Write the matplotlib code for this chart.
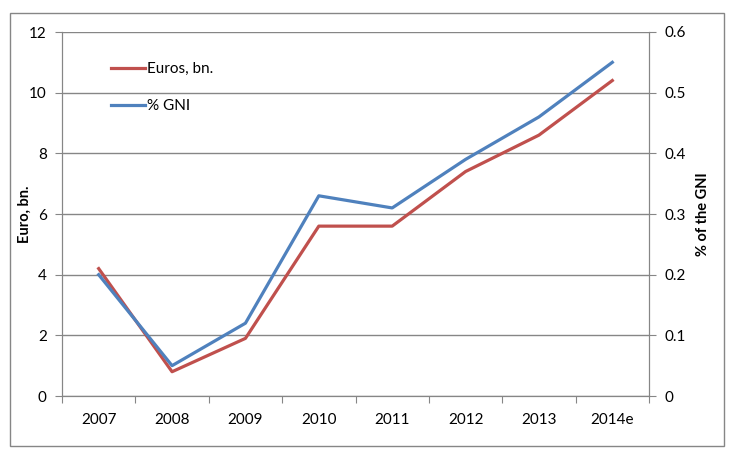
import numpy as np
import matplotlib
matplotlib.use('Agg')
import matplotlib.pyplot as plt
from matplotlib.patches import Rectangle

plt.rcParams['font.family'] = ['Lato', 'DejaVu Sans']

years = ['2007', '2008', '2009', '2010', '2011', '2012', '2013', '2014e']
euros = [4.2, 0.8, 1.9, 5.6, 5.6, 7.4, 8.6, 10.4]
gni_pct = [0.20, 0.05, 0.12, 0.33, 0.31, 0.39, 0.46, 0.55]

red = '#C0504D'
blue = '#4F81BD'
grid_col = '#868686'

fig = plt.figure(figsize=(7.31, 4.53), dpi=100)
ax = fig.add_axes([62 / 731, 1 - 396 / 453, (649 - 62) / 731, (396 - 32) / 453])
ax2 = ax.twinx()

x = np.arange(len(years))
l1, = ax.plot(x, euros, color=red, lw=2.3, label='Euros, bn.')
l2, = ax2.plot(x, gni_pct, color=blue, lw=2.3, label='% GNI')

ax.set_xlim(-0.5, len(years) - 0.5)
ax.set_ylim(0, 12)
ax2.set_ylim(0, 0.6)
ax.set_yticks(np.arange(0, 13, 2))
ax2.set_yticks(np.arange(0, 0.61, 0.1))
ax2.set_yticklabels(['0', '0.1', '0.2', '0.3', '0.4', '0.5', '0.6'])

# ticks at category boundaries, labels centred in between
ax.set_xticks(np.arange(-0.5, len(years), 1))
ax.set_xticklabels([])
ax.set_xticks(x, minor=True)
ax.set_xticklabels(years, minor=True)
ax.tick_params(axis='x', which='minor', length=0, pad=12, labelsize=11)
ax.tick_params(axis='x', which='major', length=5, color=grid_col, direction='out')
ax.tick_params(axis='y', length=5, color=grid_col, labelsize=11, pad=6)
ax2.tick_params(axis='y', length=5, color=grid_col, labelsize=11, pad=6)

ax.yaxis.grid(True, color=grid_col, lw=1)
ax.set_axisbelow(True)

for a in (ax, ax2):
    a.spines['top'].set_visible(False)
    for s in ('left', 'right', 'bottom'):
        a.spines[s].set_color(grid_col)

ax.set_ylabel('Euro, bn.', fontweight='bold', fontsize=10.5, va='center')
ax.yaxis.set_label_coords(-0.063, 0.5)
ax2.set_ylabel('% of the GNI', fontweight='bold', fontsize=10.5, rotation=90, va='center')
ax2.yaxis.set_label_coords(1.092, 0.5)

ax.legend(handles=[l1, l2], loc='upper left', bbox_to_anchor=(0.06, 0.955),
          frameon=False, fontsize=11, handlelength=2.2, handletextpad=0.15,
          labelspacing=1.5)

fig.patches.append(Rectangle((10 / 731, 1 - 446 / 453), 714 / 731, 433 / 453,
                             transform=fig.transFigure, fill=False,
                             edgecolor='#868686', lw=1))

fig.savefig('out.png', dpi=100)
